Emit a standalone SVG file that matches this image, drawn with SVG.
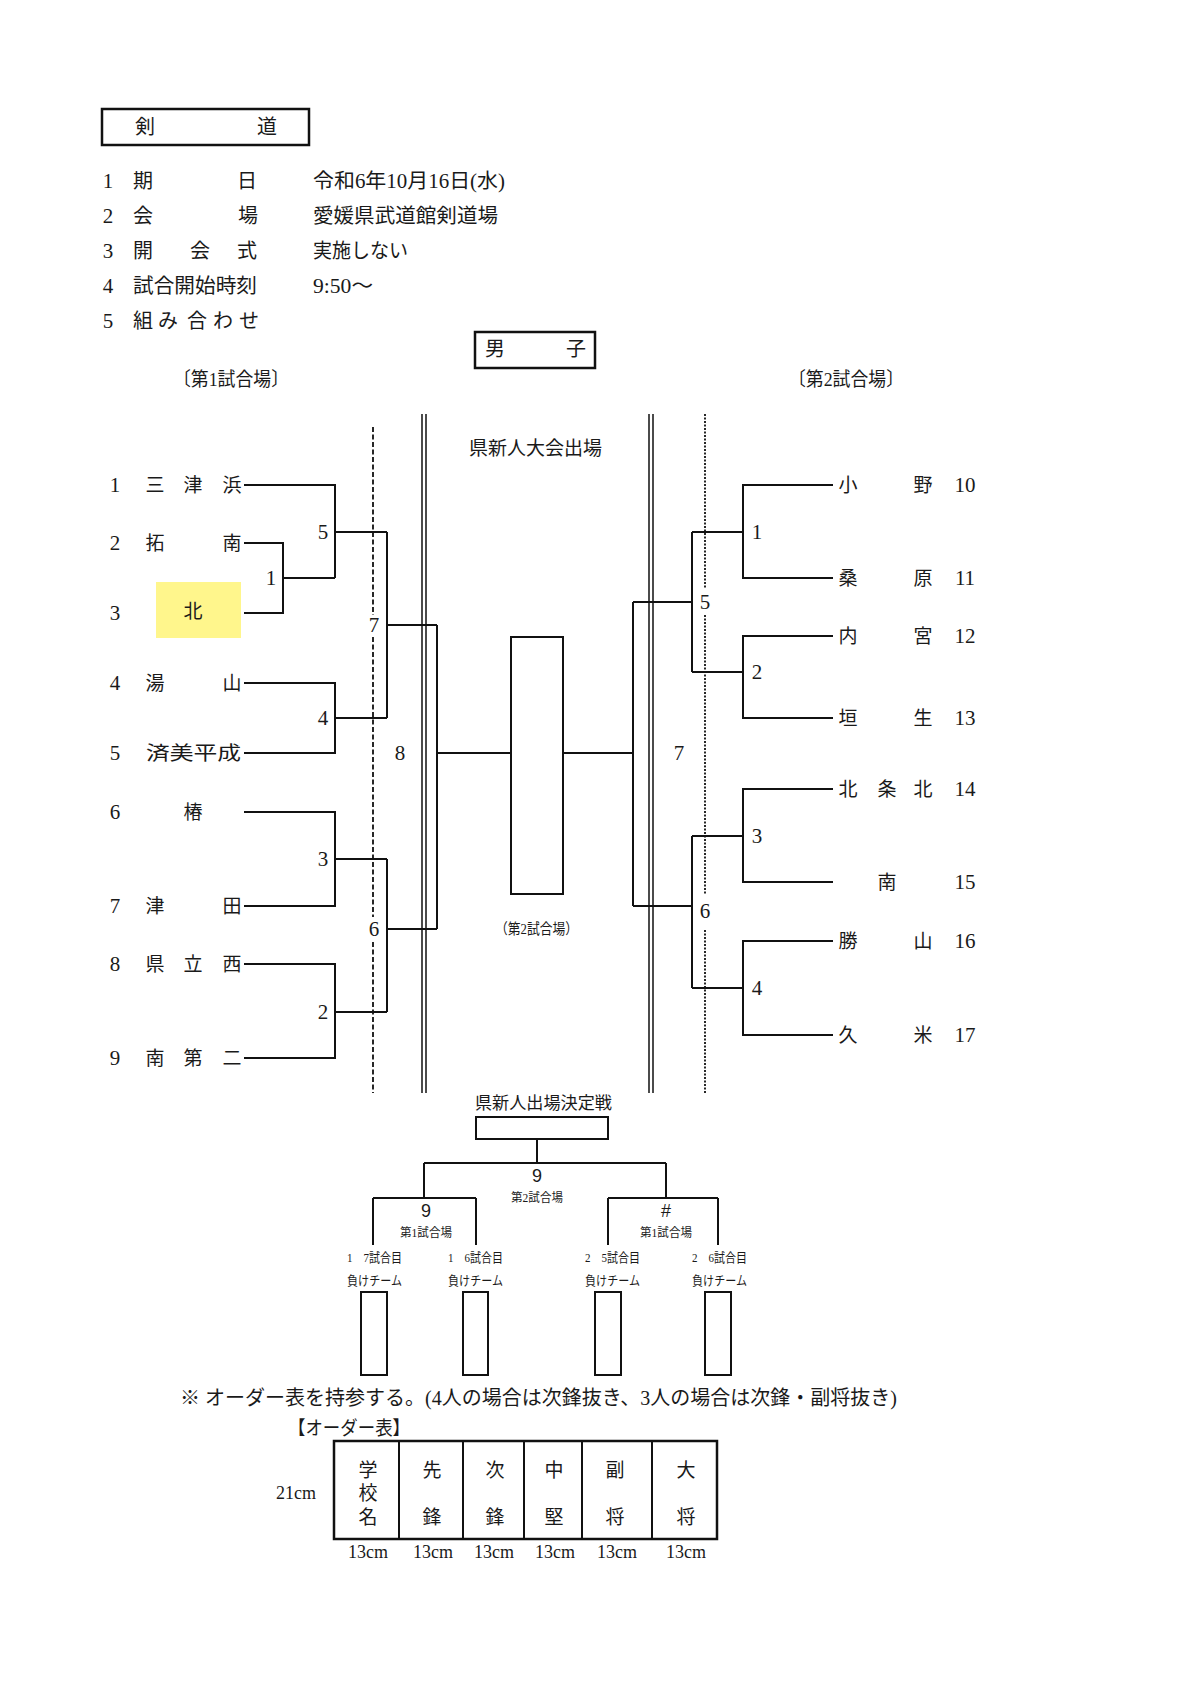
<svg xmlns="http://www.w3.org/2000/svg" width="1200" height="1697" viewBox="0 0 1200 1697">
<style>
.t{font-family:"Liberation Serif","Noto Sans CJK JP",serif;fill:#1a1a1a;dominant-baseline:central}
.m{text-anchor:middle}
.n{font-family:"Liberation Serif",serif;font-size:21px}
.s{font-family:"Liberation Sans","Noto Sans CJK JP",sans-serif;fill:#1a1a1a;dominant-baseline:central;text-anchor:middle}
.ln{fill:none;stroke:#111;stroke-width:2}
.bx{fill:#fff;stroke:#111;stroke-width:2}
.dbl{fill:none;stroke:#111;stroke-width:1.5}
.dash{fill:none;stroke:#111;stroke-width:1.8;stroke-dasharray:5 2.5}
.dot{fill:none;stroke:#111;stroke-width:1.8;stroke-dasharray:2 1.5}
</style>
<rect width="1200" height="1697" fill="#fff"/>

<g id="title">
<rect x="102" y="109" width="207" height="36" fill="none" stroke="#111" stroke-width="2.5"/>
<text class="t m" x="145" y="127" font-size="20">剣</text>
<text class="t m" x="267" y="127" font-size="20">道</text>
</g>

<g id="info" font-size="20">
<text class="t m n" x="108" y="181">1</text><text class="t m" x="143" y="181">期</text><text class="t m" x="247" y="181">日</text>
<text class="t" x="313" y="181" textLength="192" lengthAdjust="spacingAndGlyphs">令和6年10月16日(水)</text>
<text class="t m n" x="108" y="216">2</text><text class="t m" x="143" y="216">会</text><text class="t m" x="248" y="216">場</text>
<text class="t" x="313" y="216" textLength="185" lengthAdjust="spacingAndGlyphs">愛媛県武道館剣道場</text>
<text class="t m n" x="108" y="251">3</text><text class="t m" x="143" y="251">開</text><text class="t m" x="200" y="251">会</text><text class="t m" x="247" y="251">式</text>
<text class="t" x="313" y="251" textLength="95" lengthAdjust="spacingAndGlyphs">実施しない</text>
<text class="t m n" x="108" y="286">4</text>
<text class="t" x="133" y="286" textLength="124" lengthAdjust="spacingAndGlyphs">試合開始時刻</text>
<text class="t" x="313" y="286" textLength="60" lengthAdjust="spacingAndGlyphs">9:50〜</text>
<text class="t m n" x="108" y="321">5</text><text class="t m" x="143" y="321">組</text><text class="t m" x="168" y="321">み</text><text class="t m" x="197" y="321">合</text><text class="t m" x="223" y="321">わ</text><text class="t m" x="249" y="321">せ</text>
</g>

<g id="boys">
<rect x="475" y="332" width="120" height="36" fill="none" stroke="#111" stroke-width="2.5"/>
<text class="t m" x="495" y="349" font-size="20">男</text>
<text class="t m" x="576" y="349" font-size="20">子</text>
</g>

<text class="t" x="173" y="379" font-size="19" textLength="116" lengthAdjust="spacingAndGlyphs">〔第1試合場〕</text>
<text class="t" x="788" y="379" font-size="19" textLength="116" lengthAdjust="spacingAndGlyphs">〔第2試合場〕</text>
<text class="t" x="469" y="448" font-size="19" textLength="133" lengthAdjust="spacingAndGlyphs">県新人大会出場</text>

<g id="dividers">
<path class="dbl" d="M422,414V1093M426,414V1093M649,414V1093M653,414V1093"/>
<path class="dash" d="M373,427V615M373,637V917M373,942V1093"/>
<path class="dot" d="M705,414V589M705,615V894M705,930V1093"/>
</g>

<g id="teams-left" font-size="19">
<g id="team1"><text class="t m n" x="115" y="485">1</text><text class="t m" x="155" y="485">三</text><text class="t m" x="193" y="485">津</text><text class="t m" x="232" y="485">浜</text></g>
<g id="team2"><text class="t m n" x="115" y="543">2</text><text class="t m" x="155" y="543">拓</text><text class="t m" x="232" y="543">南</text></g>
<g id="team3"><rect x="156" y="582" width="85" height="56" fill="#fff68c"/><text class="t m n" x="115" y="613">3</text><text class="t m" x="193" y="611" fill="#5f5a2a">北</text></g>
<g id="team4"><text class="t m n" x="115" y="683">4</text><text class="t m" x="155" y="683">湯</text><text class="t m" x="232" y="683">山</text></g>
<g id="team5"><text class="t m n" x="115" y="753">5</text><text class="t" x="146" y="753" textLength="95" lengthAdjust="spacingAndGlyphs">済美平成</text></g>
<g id="team6"><text class="t m n" x="115" y="812">6</text><text class="t m" x="193" y="812">椿</text></g>
<g id="team7"><text class="t m n" x="115" y="906">7</text><text class="t m" x="155" y="906">津</text><text class="t m" x="232" y="906">田</text></g>
<g id="team8"><text class="t m n" x="115" y="964">8</text><text class="t m" x="155" y="964">県</text><text class="t m" x="193" y="964">立</text><text class="t m" x="232" y="964">西</text></g>
<g id="team9"><text class="t m n" x="115" y="1058">9</text><text class="t m" x="155" y="1058">南</text><text class="t m" x="193" y="1058">第</text><text class="t m" x="232" y="1058">二</text></g>
</g>

<g id="teams-right" font-size="19">
<g id="team10"><text class="t m" x="848" y="485">小</text><text class="t m" x="923" y="485">野</text><text class="t m n" x="965" y="485">10</text></g>
<g id="team11"><text class="t m" x="848" y="578">桑</text><text class="t m" x="923" y="578">原</text><text class="t m n" x="965" y="578">11</text></g>
<g id="team12"><text class="t m" x="848" y="636">内</text><text class="t m" x="923" y="636">宮</text><text class="t m n" x="965" y="636">12</text></g>
<g id="team13"><text class="t m" x="848" y="718">垣</text><text class="t m" x="923" y="718">生</text><text class="t m n" x="965" y="718">13</text></g>
<g id="team14"><text class="t m" x="848" y="789">北</text><text class="t m" x="887" y="789">条</text><text class="t m" x="923" y="789">北</text><text class="t m n" x="965" y="789">14</text></g>
<g id="team15"><text class="t m" x="887" y="882">南</text><text class="t m n" x="965" y="882">15</text></g>
<g id="team16"><text class="t m" x="848" y="941">勝</text><text class="t m" x="923" y="941">山</text><text class="t m n" x="965" y="941">16</text></g>
<g id="team17"><text class="t m" x="848" y="1035">久</text><text class="t m" x="923" y="1035">米</text><text class="t m n" x="965" y="1035">17</text></g>
</g>

<g id="connectors">
<path class="ln" d="M244,543H283V613H244M283,578H335"/>
<path class="ln" d="M244,485H335V578M335,532H387"/>
<path class="ln" d="M244,683H335V753H244M335,718H387"/>
<path class="ln" d="M387,532V718M387,625H437"/>
<path class="ln" d="M244,812H335V906H244M335,859H387"/>
<path class="ln" d="M244,964H335V1058H244M335,1012H387"/>
<path class="ln" d="M387,859V1012M387,929H437"/>
<path class="ln" d="M437,625V929M437,753H511"/>
<path class="ln" d="M563,753H633M633,602V906M633,602H692M633,906H692"/>
<path class="ln" d="M692,532V672M692,532H743M692,672H743"/>
<path class="ln" d="M833,485H743V578H833"/>
<path class="ln" d="M833,636H743V718H833"/>
<path class="ln" d="M692,836V988M692,836H743M692,988H743"/>
<path class="ln" d="M833,789H743V882H833"/>
<path class="ln" d="M833,941H743V1035H833"/>
<path class="ln" d="M537,1139V1163M424,1163H666M424,1163V1198M666,1163V1198M373,1198H476M373,1198V1245M476,1198V1245M608,1198H718M608,1198V1245M718,1198V1245"/>
</g>

<g id="match-labels">
<text class="t m n" x="271" y="578">1</text>
<text class="t m n" x="323" y="532">5</text>
<text class="t m n" x="323" y="718">4</text>
<text class="t m n" x="323" y="859">3</text>
<text class="t m n" x="323" y="1012">2</text>
<text class="t m n" x="374" y="625">7</text>
<text class="t m n" x="374" y="929">6</text>
<text class="t m n" x="400" y="753">8</text>
<text class="t m n" x="757" y="532">1</text>
<text class="t m n" x="757" y="672">2</text>
<text class="t m n" x="757" y="836">3</text>
<text class="t m n" x="757" y="988">4</text>
<text class="t m n" x="705" y="602">5</text>
<text class="t m n" x="705" y="911">6</text>
<text class="t m n" x="679" y="753">7</text>
</g>

<g id="final">
<rect class="bx" x="511" y="637" width="52" height="257"/>
<text class="t" x="495" y="929" font-size="15" textLength="83" lengthAdjust="spacingAndGlyphs">（第2試合場）</text>
</g>

<g id="playoff">
<text class="t" x="475" y="1103" font-size="17" textLength="137" lengthAdjust="spacingAndGlyphs">県新人出場決定戦</text>
<rect class="bx" x="476" y="1117" width="132" height="22"/>
<text class="s" x="537" y="1176" font-size="18">9</text>
<text class="t" x="511" y="1198" font-size="12" textLength="52" lengthAdjust="spacingAndGlyphs">第2試合場</text>
<text class="s" x="426" y="1211" font-size="18">9</text>
<text class="t" x="400" y="1233" font-size="12" textLength="52" lengthAdjust="spacingAndGlyphs">第1試合場</text>
<text class="s" x="666" y="1211" font-size="18">#</text>
<text class="t" x="640" y="1233" font-size="12" textLength="52" lengthAdjust="spacingAndGlyphs">第1試合場</text>
<g font-size="13">
<text class="t" x="347" y="1257" textLength="55" lengthAdjust="spacingAndGlyphs">1　7試合目</text><text class="t" x="347" y="1280" textLength="55" lengthAdjust="spacingAndGlyphs">負けチーム</text>
<text class="t" x="448" y="1257" textLength="55" lengthAdjust="spacingAndGlyphs">1　6試合目</text><text class="t" x="448" y="1280" textLength="55" lengthAdjust="spacingAndGlyphs">負けチーム</text>
<text class="t" x="585" y="1257" textLength="55" lengthAdjust="spacingAndGlyphs">2　5試合目</text><text class="t" x="585" y="1280" textLength="55" lengthAdjust="spacingAndGlyphs">負けチーム</text>
<text class="t" x="692" y="1257" textLength="55" lengthAdjust="spacingAndGlyphs">2　6試合目</text><text class="t" x="692" y="1280" textLength="55" lengthAdjust="spacingAndGlyphs">負けチーム</text>
</g>
<rect class="bx" x="361" y="1292" width="26" height="83"/>
<rect class="bx" x="463" y="1292" width="25" height="83"/>
<rect class="bx" x="595" y="1292" width="26" height="83"/>
<rect class="bx" x="705" y="1292" width="26" height="83"/>
</g>

<text class="t" x="180" y="1398" font-size="20" textLength="717" lengthAdjust="spacingAndGlyphs">※ オーダー表を持参する。(4人の場合は次鋒抜き、3人の場合は次鋒・副将抜き)</text>

<g id="order-table">
<text class="t" x="288" y="1428" font-size="19" textLength="122" lengthAdjust="spacingAndGlyphs">【オーダー表】</text>
<rect x="334" y="1441" width="383" height="98" fill="none" stroke="#111" stroke-width="2.5"/>
<path class="ln" d="M399,1441V1539M463,1441V1539M524,1441V1539M582,1441V1539M652,1441V1539" stroke-width="2.5"/>
<g font-size="19">
<text class="t m" x="368" y="1470">学</text><text class="t m" x="368" y="1493">校</text><text class="t m" x="368" y="1517">名</text>
<text class="t m" x="432" y="1470">先</text><text class="t m" x="432" y="1517">鋒</text>
<text class="t m" x="495" y="1470">次</text><text class="t m" x="495" y="1517">鋒</text>
<text class="t m" x="554" y="1470">中</text><text class="t m" x="554" y="1517">堅</text>
<text class="t m" x="615" y="1470">副</text><text class="t m" x="615" y="1517">将</text>
<text class="t m" x="686" y="1470">大</text><text class="t m" x="686" y="1517">将</text>
</g>
<g font-size="18">
<text class="t m" x="296" y="1493">21cm</text>
<text class="t m" x="368" y="1552">13cm</text>
<text class="t m" x="433" y="1552">13cm</text>
<text class="t m" x="494" y="1552">13cm</text>
<text class="t m" x="555" y="1552">13cm</text>
<text class="t m" x="617" y="1552">13cm</text>
<text class="t m" x="686" y="1552">13cm</text>
</g>
</g>
</svg>
